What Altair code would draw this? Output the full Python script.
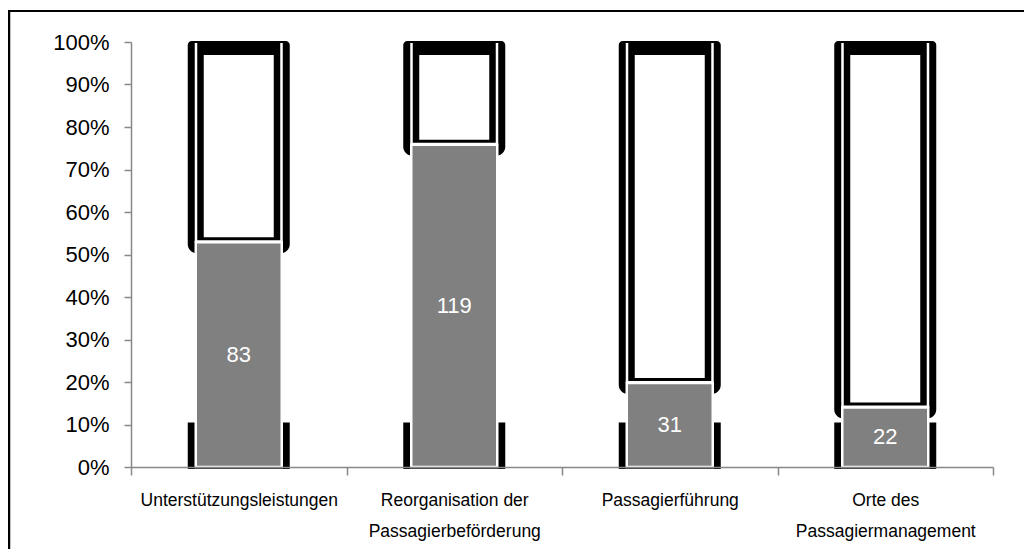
import altair as alt
import pandas as pd

categories = ["Unterstützungsleistungen", "Reorganisation der\nPassagierbeförderung",
              "Passagierführung", "Orte des\nPassagiermanagement"]
counts = [83, 119, 31, 22]
totals = [157, 157, 157, 157]
y_ticks = [0, 0.1, 0.2, 0.3, 0.4, 0.5, 0.6, 0.7, 0.8, 0.9, 1.0]

df = pd.DataFrame({"cat": categories, "count": counts, "total": totals})

FONT = "Liberation Sans"
AX = "#888888"

xenc = alt.X("cat:N", sort=categories, title=None,
             scale=alt.Scale(paddingInner=0, paddingOuter=0),
             axis=alt.Axis(labelExpr="split(datum.label, '\\n')", labelAngle=0,
                           labelFont=FONT, labelFontSize=17.5, labelColor="black",
                           labelLineHeight=31, labelPadding=16, tickBand="extent",
                           tickSize=8, tickColor=AX, domainColor=AX, domainWidth=1.5,
                           tickWidth=1.5, zindex=1, labelLimit=400))
yscale = alt.Scale(domain=[0, 1], nice=False)
yaxis = alt.Axis(values=y_ticks, format=".0%", title=None, grid=False,
                 labelFont=FONT, labelFontSize=22, labelColor="black",
                 labelPadding=15, tickSize=7, tickColor=AX, domainColor=AX,
                 domainWidth=1.5, tickWidth=1.5)


def Y(field):
    return alt.Y(field, scale=yscale, axis=yaxis, title=None)


base = alt.Chart(df).transform_calculate(
    pct="datum.count / datum.total",
    one="1",
    zero="0",
    ten="0.1",
    mid="datum.count / datum.total / 2",
).encode(x=xenc)

outer = base.mark_bar(width=102, color="black", yOffset=-1, y2Offset=11,
                      cornerRadiusTopLeft=4, cornerRadiusTopRight=4,
                      cornerRadiusBottomLeft=9, cornerRadiusBottomRight=9).encode(
    y=Y("one:Q"), y2="pct:Q")

bottom = base.mark_bar(width=102, color="black", yOffset=2, y2Offset=-2).encode(
    y=Y("zero:Q"), y2="ten:Q")

gap = base.mark_bar(width=88, color="white", yOffset=1).encode(
    y=Y("one:Q"), y2="pct:Q")

inner = base.mark_bar(width=83, color="black", yOffset=1, y2Offset=-2).encode(
    y=Y("one:Q"), y2="pct:Q")

interior = base.mark_bar(width=70, color="white", yOffset=13, y2Offset=-5).encode(
    y=Y("one:Q"), y2="pct:Q")

gray = base.mark_bar(width=86, color="#808080", stroke="white", strokeWidth=2.5).encode(
    y=Y("zero:Q"), y2="pct:Q")

labels = base.mark_text(color="white", font=FONT, fontSize=22, baseline="middle").encode(
    y=Y("mid:Q"), text="count:Q")

frame_data = alt.Data(values=[{"k": 0}])
top_line = alt.Chart(frame_data).mark_rule(color="black", strokeWidth=2).encode(
    x=alt.value(-123), x2=alt.value(901), y=alt.value(-31))
left_line = alt.Chart(frame_data).mark_rule(color="black", strokeWidth=2.5).encode(
    x=alt.value(-122), y=alt.value(-31), y2=alt.value(515))

chart = alt.layer(outer, bottom, gap, inner, interior, gray, labels, top_line, left_line).properties(
    width=862, height=425,
    padding={"left": 123, "top": 34, "right": 31, "bottom": 82},
    autosize="none",
).configure_view(stroke=None)

chart.save("out.html", embed_options={"renderer": "svg", "actions": False})
